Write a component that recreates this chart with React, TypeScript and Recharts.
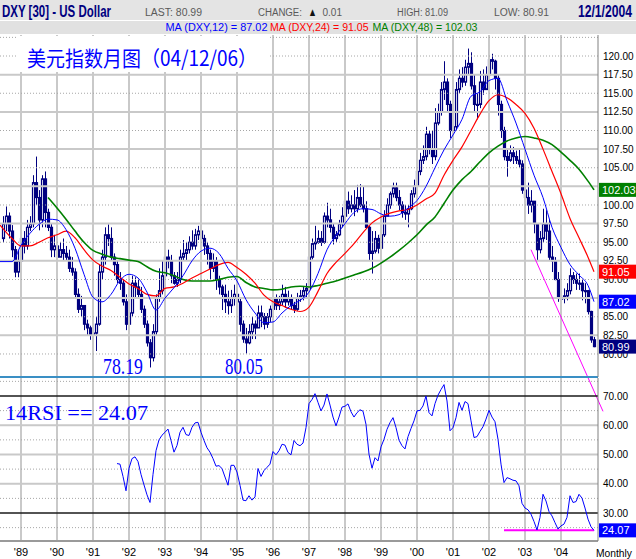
import React from "react";
import { ComposedChart, LineChart, Line, Bar, XAxis, YAxis, ReferenceLine } from "recharts";

const SANS = "'Liberation Sans', Arial, sans-serif";
const SERIF = "'Liberation Serif', 'Times New Roman', serif";
const CJK = "'Noto Sans CJK SC', sans-serif";
const NAVY = "#000080";
const GRID = "#C9C9C9";
const GRID_DOT = "#A6A6A6";

// month index: 0 = Jan '89, first bar is Jul '88
const firstMonth = -6;

const opens = [
  95.5, 97.5, 98.5, 96.5, 94.0, 91.0,
  92.5, 95.5, 94.5, 97.0, 97.5, 103.0, 101.0, 98.0, 103.5, 99.0, 97.0, 94.0,
  94.5, 93.0, 94.0, 93.5, 93.0, 91.5, 91.0, 88.0, 86.0, 86.5, 84.0, 83.5,
  82.5, 82.8, 84.0, 91.0, 93.0, 96.0, 95.5, 93.0, 92.0, 90.0, 89.5, 87.0,
  84.0, 85.5, 89.5, 89.0, 88.0, 86.0, 84.0, 81.5, 79.5, 83.0, 87.5, 88.5,
  90.5, 93.0, 92.5, 90.5, 89.5, 90.0, 93.0, 93.5, 94.0, 95.0, 94.5, 96.0,
  96.5, 95.5, 94.5, 93.5, 91.5, 92.5, 90.0, 89.0, 88.0, 87.0, 86.5, 87.5,
  88.0, 87.0, 84.0, 82.0, 81.5, 83.0, 84.0, 83.5, 85.5, 85.0, 84.0, 85.0,
  86.0, 87.5, 86.5, 87.0, 88.0, 87.0, 87.5, 86.5, 86.0, 87.5, 87.8, 88.5,
  88.8, 93.0, 94.8, 95.0, 95.5, 95.0, 98.5, 98.0, 97.0, 95.5, 96.0, 97.5,
  98.5, 100.5, 99.5, 100.0, 99.5, 101.0, 100.0, 99.5, 97.0, 93.5, 93.8, 95.5,
  94.2, 96.0, 98.5, 100.0, 101.5, 102.3, 101.0, 100.0, 99.0, 98.8, 99.5, 101.5,
  102.5, 104.5, 106.0, 106.5, 109.5, 107.5, 106.5, 111.0, 112.5, 115.5, 116.5, 113.5,
  110.0, 110.5, 115.5, 117.0, 116.5, 118.5, 119.0, 116.0, 113.5, 113.5, 116.5, 115.5,
  117.5, 119.5, 119.3, 117.0, 113.5, 110.0, 106.5, 106.0, 107.0, 106.5, 106.0, 105.5,
  102.0, 101.0, 100.0, 100.5, 97.5, 94.0, 95.5, 97.5, 96.5, 93.0, 92.5, 90.0,
  87.5, 87.5, 87.8, 88.5, 90.5, 90.0, 89.5, 89.5, 88.5, 88.5, 85.7, 81.9,
];

const highs = [
  98.5, 99.8, 99.0, 97.3, 94.5, 94.0,
  96.8, 96.5, 98.0, 98.5, 104.0, 106.5, 102.0, 104.0, 104.5, 99.5, 97.5, 96.0,
  95.0, 95.0, 95.5, 94.5, 94.0, 93.0, 91.5, 88.8, 87.8, 86.5, 84.6, 83.8,
  84.0, 85.0, 92.0, 94.0, 97.0, 97.4, 97.0, 93.5, 92.6, 91.0, 90.0, 88.0,
  86.5, 90.5, 90.3, 90.0, 89.0, 86.5, 84.5, 82.0, 84.0, 88.0, 91.5, 92.6,
  95.1, 94.0, 93.3, 91.0, 91.0, 94.0, 95.3, 95.0, 95.8, 96.6, 96.8, 97.2,
  97.3, 96.0, 95.0, 94.0, 93.5, 93.0, 90.5, 89.3, 89.3, 88.5, 88.6, 89.3,
  89.5, 87.5, 84.5, 83.5, 84.0, 85.0, 84.5, 86.5, 86.5, 85.5, 85.5, 86.5,
  88.0, 88.0, 87.8, 89.3, 89.0, 88.5, 88.0, 87.0, 88.2, 88.6, 89.0, 89.5,
  93.5, 95.5, 97.2, 96.6, 96.5, 99.0, 100.3, 99.5, 97.5, 96.5, 98.0, 99.7,
  101.8, 101.8, 101.3, 102.0, 102.7, 102.8, 102.5, 100.5, 97.2, 96.5, 96.5, 96.0,
  97.0, 99.3, 100.9, 101.8, 103.0, 103.0, 102.0, 100.5, 100.0, 100.0, 102.0, 103.4,
  105.0, 107.0, 108.0, 110.5, 110.0, 110.0, 113.0, 113.6, 116.5, 119.3, 117.0, 114.0,
  112.0, 116.5, 118.2, 118.5, 119.5, 121.0, 120.5, 117.5, 115.0, 118.0, 118.2, 118.6,
  120.6, 120.3, 119.5, 117.5, 114.0, 110.5, 107.5, 108.0, 107.8, 107.3, 107.5, 106.0,
  102.5, 103.0, 102.0, 100.5, 97.5, 96.5, 99.5, 99.3, 98.0, 94.5, 93.0, 91.0,
  88.3, 88.8, 89.5, 91.5, 91.0, 90.8, 90.8, 90.0, 89.5, 88.6, 85.8, 82.3,
];

const lows = [
  95.0, 96.5, 95.5, 93.0, 90.3, 90.3,
  92.0, 93.5, 94.0, 96.5, 97.0, 100.0, 96.6, 97.0, 97.0, 96.5, 93.0, 93.0,
  92.5, 93.0, 92.5, 92.5, 91.0, 90.5, 87.5, 85.5, 85.0, 83.2, 82.5, 81.9,
  81.5, 80.4, 83.8, 90.0, 92.0, 94.5, 92.5, 90.5, 89.5, 88.6, 86.5, 83.2,
  83.2, 85.0, 87.5, 87.5, 85.5, 83.5, 81.0, 78.19, 79.0, 82.5, 87.0, 88.0,
  90.0, 91.5, 89.5, 89.3, 89.0, 89.5, 92.5, 92.6, 93.5, 94.0, 94.0, 95.3,
  94.8, 93.3, 92.0, 90.0, 91.0, 88.6, 88.0, 85.9, 85.5, 85.3, 85.5, 86.5,
  86.5, 83.0, 81.5, 80.05, 81.3, 82.0, 82.0, 83.5, 83.6, 83.3, 83.5, 84.3,
  85.5, 85.9, 85.9, 86.5, 86.2, 86.5, 85.9, 85.5, 85.8, 87.0, 87.2, 87.5,
  88.5, 92.7, 94.0, 94.8, 94.5, 94.8, 97.0, 96.3, 94.7, 95.0, 95.8, 97.0,
  98.5, 98.8, 99.0, 98.5, 99.0, 99.7, 99.0, 96.8, 92.5, 90.8, 93.5, 93.5,
  94.0, 95.7, 98.5, 99.5, 101.0, 100.5, 99.3, 98.3, 98.0, 97.0, 99.3, 101.0,
  102.5, 104.0, 105.5, 106.0, 106.8, 105.5, 106.0, 110.7, 112.0, 114.1, 112.5, 109.0,
  109.5, 110.0, 115.0, 115.8, 116.0, 117.5, 115.5, 112.5, 111.5, 113.0, 114.8, 115.5,
  117.0, 118.2, 115.5, 112.0, 109.0, 106.0, 103.8, 105.8, 105.5, 105.5, 105.0, 101.5,
  100.0, 98.8, 99.0, 96.2, 92.6, 93.5, 95.0, 95.3, 92.6, 91.0, 89.9, 87.0,
  85.0, 86.8, 87.2, 88.0, 89.4, 88.6, 88.6, 87.2, 86.8, 85.3, 81.5, 80.91,
];

const closes = [
  97.5, 98.5, 96.5, 94.0, 91.0, 92.5,
  95.5, 94.5, 97.0, 97.5, 103.0, 101.0, 98.0, 103.5, 99.0, 97.0, 94.0, 94.5,
  93.0, 94.0, 93.5, 93.0, 91.5, 91.0, 88.0, 86.0, 86.5, 84.0, 83.5, 82.5,
  82.8, 84.0, 91.0, 93.0, 96.0, 95.5, 93.0, 92.0, 90.0, 89.5, 87.0, 84.0,
  85.5, 89.5, 89.0, 88.0, 86.0, 84.0, 81.5, 79.5, 83.0, 87.5, 88.5, 90.5,
  93.0, 92.5, 90.5, 89.5, 90.0, 93.0, 93.5, 94.0, 95.0, 94.5, 96.0, 96.5,
  95.5, 94.5, 93.5, 91.5, 92.5, 90.0, 89.0, 88.0, 87.0, 86.5, 87.5, 88.0,
  87.0, 84.0, 82.0, 81.5, 83.0, 84.0, 83.5, 85.5, 85.0, 84.0, 85.0, 86.0,
  87.5, 86.5, 87.0, 88.0, 87.0, 87.5, 86.5, 86.0, 87.5, 87.8, 88.5, 88.8,
  93.0, 94.8, 95.0, 95.5, 95.0, 98.5, 98.0, 97.0, 95.5, 96.0, 97.5, 98.5,
  100.5, 99.5, 100.0, 99.5, 101.0, 100.0, 99.5, 97.0, 93.5, 93.8, 95.5, 94.2,
  96.0, 98.5, 100.0, 101.5, 102.3, 101.0, 100.0, 99.0, 98.8, 99.5, 101.5, 102.5,
  104.5, 106.0, 106.5, 109.5, 107.5, 106.5, 111.0, 112.5, 115.5, 116.5, 113.5, 110.0,
  110.5, 115.5, 117.0, 116.5, 118.5, 119.0, 116.0, 113.5, 113.5, 116.5, 115.5, 117.5,
  119.5, 119.3, 117.0, 113.5, 110.0, 106.5, 106.0, 107.0, 106.5, 106.0, 105.5, 102.0,
  101.0, 100.0, 100.5, 97.5, 94.0, 95.5, 97.5, 96.5, 93.0, 92.5, 90.0, 87.5,
  87.5, 87.8, 88.5, 90.5, 90.0, 89.5, 89.5, 88.5, 88.5, 85.7, 81.9, 80.99,
];

// moving averages, every three months
const maMonths = [
  -7, -3, 0, 3, 6, 9, 12, 15, 18, 21, 24, 27, 30, 33, 36, 39, 42, 45, 48, 51, 54, 57,
  60, 63, 66, 69, 72, 75, 78, 81, 84, 87, 90, 93, 96, 99, 102, 105, 108, 111, 114, 117,
  120, 123, 126, 129, 132, 135, 138, 141, 144, 147, 150, 153, 156, 159, 162, 165, 168,
  171, 174, 177, 180, 183, 186, 189, 191,
];
const ma12 = [
  92.4, 92.4, 94.6, 96.2, 97.4, 98.1, 98.0, 96.7, 94.2, 90.7, 87.6, 87.0, 88.0, 89.9, 90.7, 90.2, 88.3, 85.9, 87.5, 88.9, 90.5, 92.5,
  93.8, 94.2, 93.5, 91.5, 89.8, 87.3, 85.5, 84.2, 84.3, 85.5, 86.5, 87.2, 88.3, 90.8, 94.0, 95.9, 97.5, 99.0, 99.5, 99.4,
  98.8, 98.5, 98.7, 99.6, 100.6, 102.5, 105.0, 107.4, 109.4, 111.5, 114.6, 115.2, 116.7, 117.0, 114.0, 111.0, 107.5,
  104.0, 101.0, 97.0, 94.3, 92.0, 90.6, 89.2, 87.02,
];
const ma24 = [
  97.3, 95.5, 94.5, 94.5, 95.0, 95.6, 96.0, 96.5, 95.6, 94.0, 92.6, 91.8, 91.2, 90.3, 89.4, 88.8, 88.0, 87.8, 88.8, 89.0, 89.5, 90.2,
  90.8, 91.4, 92.0, 92.3, 91.6, 90.7, 89.5, 87.9, 87.0, 86.5, 86.0, 85.7, 86.3, 88.4, 90.8, 92.3, 93.5, 94.8, 96.3, 97.6,
  98.4, 98.9, 99.2, 99.4, 100.0, 100.8, 101.6, 104.0, 106.0, 107.8, 110.0, 112.2, 114.0, 114.8, 114.4, 113.5, 112.3,
  110.3, 107.5, 104.5, 101.5, 98.2, 95.6, 93.0, 91.05,
];
const ma48 = [
  null, null, null, null, null, 101.0, 99.6, 98.1, 96.5, 95.0, 93.9, 93.4, 93.0, 92.8, 92.6, 92.4, 91.7, 91.1, 90.9, 90.5, 90.0, 89.8,
  89.8, 89.8, 90.0, 90.3, 90.4, 89.6, 89.0, 88.8, 88.6, 88.7, 89.0, 89.1, 89.0, 89.2, 89.5, 89.8, 90.2, 90.6, 91.0, 91.5,
  92.2, 93.0, 93.9, 94.9, 96.0, 97.3, 98.4, 100.2, 102.0, 103.4, 104.5, 105.8, 107.0, 107.9, 108.6, 109.0, 109.2,
  109.0, 108.7, 108.1, 107.1, 106.0, 104.8, 103.2, 102.03,
];

// 14-month RSI, from Sep '91
const rsiFirstMonth = 32;
const rsiValues = [
  46.9, 46.7, 42.5, 37.6, 45.3, 48.6, 49.2, 47.6, 43.2, 39.6, 36.2, 33.6,
  43.2, 51.3, 55.0, 56.6, 57.6, 58.7, 54.8, 50.8, 53.1, 57.6, 59.3, 56.8,
  56.5, 59.3, 60.8, 61.0, 57.6, 54.8, 52.3, 50.8, 48.6, 46.0, 46.2, 45.2,
  42.3, 39.5, 46.3, 46.3, 44.0, 39.5, 34.4, 34.2, 35.9, 34.4, 35.5, 45.2,
  42.5, 44.5, 45.6, 46.7, 51.0, 49.9, 51.3, 53.5, 53.2, 50.7, 49.9, 54.8,
  53.5, 53.0, 53.9, 59.2, 67.4, 68.8, 70.8, 67.8, 64.9, 66.9, 70.7, 66.9,
  62.8, 59.8, 62.8, 66.2, 66.5, 67.3, 64.6, 62.8, 64.3, 65.3, 64.8, 60.3,
  50.1, 45.3, 48.9, 47.8, 52.6, 55.2, 58.6, 60.9, 62.6, 59.2, 54.9, 53.0,
  51.9, 56.1, 58.9, 61.5, 64.9, 65.1, 66.6, 70.0, 64.3, 63.2, 67.4, 70.3,
  72.2, 73.9, 68.3, 58.1, 59.2, 62.6, 67.8, 65.1, 68.1, 67.4, 61.5, 55.8,
  56.1, 57.9, 59.5, 62.1, 65.1, 62.8, 61.2, 55.2, 46.7, 40.4, 42.1, 41.7,
  41.2, 41.0, 39.3, 33.3, 31.7, 31.1, 29.6, 27.1, 24.2, 28.5, 36.4, 34.1,
  30.5, 29.0, 26.7, 24.5, 25.6, 26.2, 28.5, 35.9, 33.6, 33.9, 36.4, 35.1,
  31.7, 27.9, 25.3, 24.07,
];

const yearMonths = [0, 12, 24, 36, 48, 60, 72, 84, 96, 108, 120, 132, 144, 156, 168, 180];
const yearLabels = ["'89", "'90", "'91", "'92", "'93", "'94", "'95", "'96", "'97", "'98", "'99", "'00", "'01", "'02", "'03", "'04"];

// 87.50 and 102.50 sit fully under the value tags in the reference
const priceTicks = [80, 82.5, 85, 90, 92.5, 95, 97.5, 100, 105, 107.5, 110, 112.5, 115, 117.5, 120];
const priceGridSolid = [82.5, 87.5, 92.5, 97.5, 102.5, 107.5, 112.5, 117.5];
const priceGridDotted = [80, 85, 90, 95, 100, 105, 110, 115, 120, 122.5];
const rsiTicks = [30, 40, 50, 60, 70];
const rsiGridSolid = [40, 50, 60];
const rsiGridDotted = [25, 35, 45, 55, 65, 75];
const rsiBands = [30, 70];

// trend lines drawn on the chart
const priceTrend = [{ x: 170, y: 94.0 }, { x: 194, y: 72.3 }];
const rsiFloor = [{ x: 161, y: 24.07 }, { x: 191, y: 24.07 }];

const X_DOMAIN: [number, number] = [-7, 192.33];
const PRICE_DOMAIN: [number, number] = [76.91, 122.82];
const RSI_DOMAIN: [number, number] = [20.43, 76.15];

const last = (a: any[]) => a[a.length - 1];

const priceTags = [
  { value: last(ma48), fill: "#008000" },
  { value: last(ma24), fill: "#FF0000" },
  { value: last(ma12), fill: "#0000FF" },
  { value: last(closes), fill: NAVY },
];
const rsiTags = [{ value: last(rsiValues), fill: "#0000FF" }];

const maIndex = new Map(maMonths.map((m, i) => [m, i]));
const priceData = [-7, ...closes.map((_, i) => firstMonth + i)].map((m) => {
  const row: any = { m };
  const i = m - firstMonth;
  if (i >= 0) {
    row.o = opens[i];
    row.h = highs[i];
    row.l = lows[i];
    row.c = closes[i];
    row.range = [lows[i], highs[i]];
  }
  const j = maIndex.get(m);
  if (j !== undefined) {
    row.ma12 = ma12[j];
    row.ma24 = ma24[j];
    row.ma48 = ma48[j];
  }
  return row;
});
const rsiData = rsiValues.map((r, i) => ({ m: rsiFirstMonth + i, rsi: r }));

function Candle(props: any) {
  const { x, y, width, height, payload } = props;
  if (!payload || payload.o == null || !isFinite(y) || !isFinite(height)) return null;
  const { o, h, l, c } = payload;
  const top = Math.min(y, y + height);
  const span = Math.abs(height);
  const k = h > l ? span / (h - l) : 0;
  const cx = Math.round(x + width / 2) + 0.5;
  const yO = top + (h - o) * k;
  const yC = top + (h - c) * k;
  const up = c >= o;
  return (
    <g>
      <line x1={cx} x2={cx} y1={top} y2={top + span} stroke={NAVY} strokeWidth={1} />
      <rect x={cx - 1} y={Math.min(yO, yC)} width={2} height={Math.max(Math.abs(yO - yC), 1)}
        fill={up ? "#fff" : NAVY} stroke={NAVY} strokeWidth={1.2} />
    </g>
  );
}

// right-axis tick; the tag values are appended last so their boxes cover plain labels
const makeTick = (tags: { value: number; fill: string }[]) => (props: any) => {
  const { x, y, payload } = props;
  const v = payload.value as number;
  const t = tags.find((tg) => tg.value === v);
  if (t) {
    return (
      <g>
        <rect x={x - 4} y={y - 7} width={37} height={14} fill={t.fill} />
        <text x={x - 1} y={y + 4} fill="#fff" fontSize={11} fontFamily={SANS}>{v.toFixed(2)}</text>
      </g>
    );
  }
  return (
    <text x={x} y={y} dy="0.355em" fill="#000" fontSize={10} fontFamily={SANS}>{v.toFixed(2)}</text>
  );
};

function FitText({ x, y, w, sx = 1, size, children, ...rest }: any) {
  return (
    <text transform={`translate(${x} ${y}) scale(${sx} 1)`} fontSize={size}
      textLength={w / sx} lengthAdjust="spacingAndGlyphs" {...rest}>{children}</text>
  );
}

function Overlay() {
  return (
    <svg width={636} height={559} style={{ position: "absolute", left: 0, top: 0, pointerEvents: "none" }}>
      <rect x={0} y={0} width={636} height={20} fill="#E4E4E4" />
      <rect x={0} y={21} width={636} height={13} fill="#E1E1E1" />
      <g fontFamily={SANS}>
        <FitText x={2} y={16.5} w={109} sx={0.72} size={16} fontWeight="bold" fill={NAVY}>DXY [30] - US Dollar</FitText>
        <FitText x={145} y={15.7} w={57} sx={0.89} size={11.5} fill="#5A5A5A">LAST: 80.99</FitText>
        <FitText x={258} y={15.7} w={44} sx={0.84} size={11.5} fill="#5A5A5A">CHANGE:</FitText>
        <FitText x={308} y={15.7} w={9} size={11.5} fill="#111">▲</FitText>
        <FitText x={322.5} y={15.7} w={19.5} sx={0.87} size={11.5} fill="#5A5A5A">0.01</FitText>
        <FitText x={397} y={15.7} w={51} sx={0.8} size={11.5} fill="#5A5A5A">HIGH: 81.09</FitText>
        <FitText x={494} y={15.7} w={55} sx={0.9} size={11.5} fill="#5A5A5A">LOW: 80.91</FitText>
        <FitText x={578} y={16.5} w={54} sx={0.76} size={16} fontWeight="bold" fill={NAVY}>12/1/2004</FitText>
        <FitText x={165.5} y={30.5} w={102} size={10.5} fill="#0000FF">{`MA (DXY,12) = ${last(ma12).toFixed(2)}`}</FitText>
        <FitText x={270} y={30.5} w={98.5} size={10.5} fill="#FF0000">{`MA (DXY,24) = ${last(ma24).toFixed(2)}`}</FitText>
        <FitText x={372.5} y={30.5} w={105} size={10.5} fill="#008000">{`MA (DXY,48) = ${last(ma48).toFixed(2)}`}</FitText>
        <FitText x={596} y={556.5} w={36} size={10.5} fill="#000">Monthly</FitText>
      </g>
      <rect x={17} y={36} width={251} height={36} fill="#fff" />
      <FitText x={27} y={66} w={230} size={21} fontFamily={CJK} fill="#0000FF">美元指数月图（04/12/06）</FitText>
      <g fontFamily={SERIF} fill="#0000FF">
        <FitText x={103} y={373.5} w={40} sx={0.74} size={24}>78.19</FitText>
        <FitText x={225} y={373.5} w={38} sx={0.7} size={24}>80.05</FitText>
        <FitText x={5} y={420} w={143} size={22}>{`14RSI == ${last(rsiValues).toFixed(2)}`}</FitText>
      </g>
    </svg>
  );
}

export default function App() {
  return (
    <div style={{ position: "absolute", left: 0, top: 0, width: 636, height: 559, background: "#fff", overflow: "hidden" }}>
      <style>{`.price-pane .recharts-surface{overflow:visible}`}</style>
      <div className="price-pane" style={{ position: "absolute", left: 0, top: 35 }}>
        <ComposedChart width={636} height={342} data={priceData} margin={{ top: 0, right: 0, bottom: 0, left: 0 }}>
          <XAxis dataKey="m" type="number" domain={X_DOMAIN} allowDataOverflow hide />
          <YAxis orientation="right" domain={PRICE_DOMAIN} allowDataOverflow width={38}
            ticks={[...priceTicks, ...priceTags.map((t) => t.value)]}
            interval={0} tickLine={false} tickSize={0} tickMargin={5} axisLine={{ stroke: "#808080" }}
            tick={makeTick(priceTags)} />
          {yearMonths.map((m) => (
            <ReferenceLine key={`v${m}`} x={m} stroke={GRID} strokeWidth={2} ifOverflow="visible" />
          ))}
          {priceGridSolid.map((v) => (
            <ReferenceLine key={`s${v}`} y={v} stroke={GRID} strokeWidth={2} ifOverflow="visible" />
          ))}
          {priceGridDotted.map((v) => (
            <ReferenceLine key={`d${v}`} y={v} stroke={GRID_DOT} strokeDasharray="1 2" ifOverflow="visible" />
          ))}
          <Bar dataKey="range" barSize={3} shape={Candle} isAnimationActive={false} />
          <Line dataKey="ma48" type="monotone" stroke="#008000" strokeWidth={1.6} dot={false} connectNulls isAnimationActive={false} />
          <Line dataKey="ma24" type="monotone" stroke="#FF0000" strokeWidth={1.2} dot={false} connectNulls isAnimationActive={false} />
          <Line dataKey="ma12" type="monotone" stroke="#0000FF" strokeWidth={1} dot={false} connectNulls isAnimationActive={false} />
          <ReferenceLine segment={priceTrend} stroke="#FF00FF" strokeWidth={1} ifOverflow="visible" />
          <ReferenceLine y={PRICE_DOMAIN[0]} stroke="#3A8FC4" strokeWidth={2} ifOverflow="visible" />
        </ComposedChart>
      </div>
      <div style={{ position: "absolute", left: 0, top: 378 }}>
        <LineChart width={636} height={181} data={rsiData} margin={{ top: 0, right: 0, bottom: 0, left: 0 }}>
          <XAxis dataKey="m" type="number" domain={X_DOMAIN} allowDataOverflow ticks={yearMonths} interval={0}
            height={18} tickLine={false} tickSize={0} tickMargin={7} axisLine={{ stroke: "#9A9A9A", strokeWidth: 2 }}
            tick={{ fontSize: 11, fill: "#000", fontFamily: SANS }}
            tickFormatter={(v: number) => yearLabels[yearMonths.indexOf(v)] ?? ""} />
          <YAxis orientation="right" domain={RSI_DOMAIN} allowDataOverflow width={38}
            ticks={[...rsiTicks, ...rsiTags.map((t) => t.value)]}
            interval={0} tickLine={false} tickSize={0} tickMargin={5} axisLine={{ stroke: "#808080" }}
            tick={makeTick(rsiTags)} />
          {yearMonths.map((m) => (
            <ReferenceLine key={`v${m}`} x={m} stroke={GRID} strokeWidth={2} ifOverflow="visible" />
          ))}
          {rsiGridSolid.map((v) => (
            <ReferenceLine key={`s${v}`} y={v} stroke={GRID} strokeWidth={2} ifOverflow="visible" />
          ))}
          {rsiGridDotted.map((v) => (
            <ReferenceLine key={`d${v}`} y={v} stroke={GRID_DOT} strokeDasharray="1 2" ifOverflow="visible" />
          ))}
          {rsiBands.map((v) => (
            <ReferenceLine key={`b${v}`} y={v} stroke="#1A1A1A" strokeWidth={1.5} ifOverflow="visible" />
          ))}
          <ReferenceLine segment={rsiFloor} stroke="#FF00FF" strokeWidth={2} ifOverflow="visible" />
          <Line dataKey="rsi" type="linear" stroke="#0000FF" strokeWidth={1} dot={false} isAnimationActive={false} />
        </LineChart>
      </div>
      <Overlay />
    </div>
  );
}
